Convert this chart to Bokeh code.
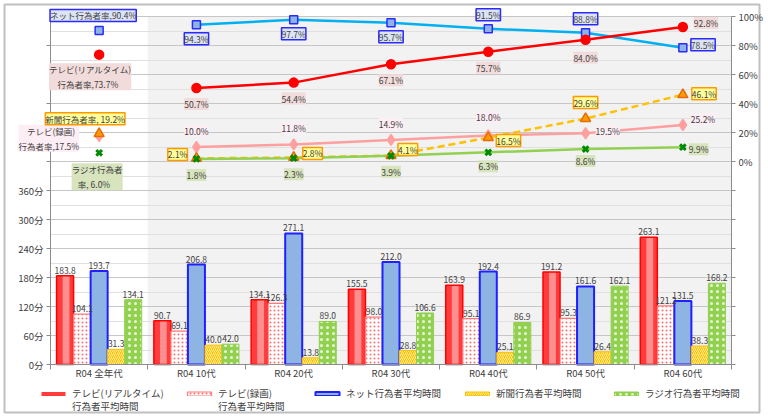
from bokeh.plotting import figure
from bokeh.models import (ColumnDataSource, Range1d, LinearAxis, FixedTicker,
                          LabelSet, Legend, LegendItem)
from bokeh.transform import dodge
from bokeh.core.properties import value
from bokeh.embed import file_html
from bokeh.resources import INLINE

# ---------------- data ----------------
groups = ["R04 全年代", "R04 10代", "R04 20代", "R04 30代", "R04 40代", "R04 50代", "R04 60代"]

tv_rt_min = [183.8, 90.7, 134.1, 155.5, 163.9, 191.2, 263.1]
tv_rec_min = [104.1, 69.1, 126.3, 98.0, 95.1, 95.3, 121.2]
net_min = [193.7, 206.8, 271.1, 212.0, 192.4, 161.6, 131.5]
paper_min = [31.3, 40.0, 13.8, 28.8, 25.1, 26.4, 38.3]
radio_min = [134.1, 42.0, 89.0, 106.6, 86.9, 162.1, 168.2]

net_rate = [90.4, 94.3, 97.7, 95.7, 91.5, 88.8, 78.5]
tv_rt_rate = [73.7, 50.7, 54.4, 67.1, 75.7, 84.0, 92.8]
tv_rec_rate = [17.5, 10.0, 11.8, 14.9, 18.0, 19.5, 25.2]
paper_rate = [19.2, 2.1, 2.8, 4.1, 16.5, 29.6, 46.1]
radio_rate = [6.0, 1.8, 2.3, 3.9, 6.3, 8.6, 9.9]

rate_titles = ["ネット行為者率,", "テレビ(リアルタイム)\n\u3000行為者率,", "\u3000テレビ(録画)\n行為者率,",
               "新聞行為者率, ", "ラジオ行為者\n\u2002 率, "]
bar_names = ["テレビ(リアルタイム)\n行為者平均時間", "テレビ(録画)\n行為者平均時間",
             "ネット行為者平均時間", "新聞行為者平均時間", "ラジオ行為者平均時間"]

time_ticks = [0, 60, 120, 180, 240, 300, 360]
time_extra_ticks = [420, 540, 660]
pct_ticks = [0, 20, 40, 60, 80, 100]

# ---------------- layout / style ----------------
FONT = "Noto Sans CJK JP"
TXT = "#404040"
AX = "#8c8c8c"
N = len(groups)
xc = [i + 0.5 for i in range(N)]

W, H = 764, 415
PX0, PX1 = 50, 731        # pixel of x = 0 and x = N
PY0, PY1 = 364, 16        # pixel of 0 min and TMAX
TMAX = 720
PCT0, MPP = 420, 3        # 0 % sits at 420 min, 1 % = 3 min
sx = (PX1 - PX0) / N
sy = (PY0 - PY1) / TMAX
y0, y1 = -(H - PY0) / sy, TMAX + PY1 / sy

p = figure(width=W, height=H, x_range=Range1d(-PX0 / sx, N + (W - PX1) / sx),
           y_range=Range1d(y0, y1), output_backend="svg", toolbar_location=None,
           min_border=0)
p.extra_y_ranges = {"pct": Range1d((y0 - PCT0) / MPP, (y1 - PCT0) / MPP)}
p.outline_line_color = None
p.background_fill_color = "white"
p.border_fill_color = "white"

# outer frame of the picture
p.quad(left=(4 - PX0) / sx, right=(759 - PX0) / sx, top=(PY0 - 4) / sy, bottom=(PY0 - 412) / sy,
       fill_color=None, line_color="#c0c0c0", line_width=2)

p.xgrid.visible = False
p.ygrid.ticker = FixedTicker(ticks=list(range(0, TMAX + 1, 60)),
                             minor_ticks=list(range(30, TMAX + 1, 60)))
p.ygrid.grid_line_color = "#c6c6c6"
p.ygrid.minor_grid_line_color = "#e0e0e0"
p.ygrid.bounds = (-1, TMAX + 1)
try:
    p.ygrid.cross_bounds = (0, N)
except AttributeError:
    pass

# grey background for age groups
p.quad(left=1, right=N, bottom=0, top=TMAX, fill_color="#f2f2f2", line_color=None, level="image")

# left axis (minutes)
la = p.yaxis[0]
la.fixed_location = 0
la.bounds = (0, TMAX)
la.ticker = FixedTicker(ticks=time_ticks + time_extra_ticks)
la.major_label_overrides = {**{t: f"{t}分" for t in time_ticks}, **{t: "" for t in time_extra_ticks}}
# right axis (percent)
ra = LinearAxis(y_range_name="pct", ticker=FixedTicker(ticks=list(range(-140, 101, 20))),
                fixed_location=N, bounds=(-140, 100))
ra.major_label_overrides = {t: (f"{t}%" if t in pct_ticks else "") for t in range(-140, 101, 20)}
p.add_layout(ra, "right")
for ax in (la, ra):
    ax.axis_line_color = AX
    ax.major_tick_line_color = AX
    ax.major_tick_out = 4
    ax.major_tick_in = 0
    ax.minor_tick_line_color = None
    ax.major_label_text_font = FONT
    ax.major_label_text_font_size = "9.5px"
    ax.major_label_text_color = TXT
    ax.major_label_standoff = 3

xa = p.xaxis[0]
xa.fixed_location = 0
xa.bounds = (0, N)
xa.ticker = FixedTicker(ticks=xc, minor_ticks=list(range(N + 1)))
xa.major_label_overrides = {c: g for c, g in zip(xc, groups)}
xa.axis_line_color = AX
xa.major_tick_line_color = None
xa.minor_tick_line_color = AX
xa.minor_tick_out = 5
xa.minor_tick_in = 0
xa.major_tick_out = 0
xa.major_label_standoff = -4
xa.major_label_text_font = FONT
xa.major_label_text_font_size = "9.5px"
xa.major_label_text_color = TXT

# ---------------- bars ----------------
bsrc = ColumnDataSource(dict(x=xc, tv_rt=tv_rt_min, tv_rec=tv_rec_min, net=net_min,
                             paper=paper_min, radio=radio_min))
offs = [-0.35, -0.175, 0.0, 0.175, 0.35]
BW = 0.175
cols = ["tv_rt", "tv_rec", "net", "paper", "radio"]

r_rt = p.vbar(x=dodge("x", offs[0], range=p.x_range), top="tv_rt", width=BW, source=bsrc,
              fill_color="#ff3b3b", line_color=None)
p.vbar(x=dodge("x", offs[0] + 0.01, range=p.x_range), top="tv_rt", width=0.07, source=bsrc,
       fill_color="#ff8f8f", line_color=None)
p.vbar(x=dodge("x", offs[0], range=p.x_range), top="tv_rt", width=BW, source=bsrc,
       fill_color=None, line_color="#ff0000", line_width=1.5)
r_rec = p.vbar(x=dodge("x", offs[1], range=p.x_range), top="tv_rec", width=BW, source=bsrc,
               fill_color="white", line_color="#ff7a7a", line_width=1.2,
               hatch_pattern="dot", hatch_color="#ff6f6f", hatch_scale=4, hatch_weight=1)
r_net = p.vbar(x=dodge("x", offs[2], range=p.x_range), top="net", width=BW, source=bsrc,
               fill_color="#8db4e2", line_color="#1f1fff", line_width=2)
r_paper = p.vbar(x=dodge("x", offs[3], range=p.x_range), top="paper", width=BW, source=bsrc,
                 fill_color="#ffc000", line_color="#ffc000", line_width=1,
                 hatch_pattern="right_diagonal_line", hatch_color="#fff0a0", hatch_scale=4,
                 hatch_weight=1)
r_radio = p.vbar(x=dodge("x", offs[4], range=p.x_range), top="radio", width=BW, source=bsrc,
                 fill_color="#92d050", line_color="#92d050", line_width=1,
                 hatch_pattern="dot", hatch_color="#e8f5d8", hatch_scale=6, hatch_weight=1)

for c, o in zip(cols, offs):
    s = ColumnDataSource(dict(x=xc, y=bsrc.data[c], t=[f"{v:.1f}" for v in bsrc.data[c]]))
    p.add_layout(LabelSet(x=dodge("x", o, range=p.x_range), y="y", text="t", source=s,
                          y_offset=2, text_align="center", text_baseline="bottom",
                          text_font=value(FONT), text_font_size="8.5px", text_color=TXT))

# ---------------- rate lines ----------------
series = [
    dict(rate=net_rate, line="#00b0f0", dash="solid", marker="square", size=8,
         mfill="#8db4e2", mline="#2a2aff", bg="#dce4f4", border="#2a2aff",
         place=[(-6, 15, "center"), (0, -14, "center"), (0, -14, "center"), (0, -14, "center"),
                (0, 14, "center"), (0, 14, "center"), (8, 3, "left")]),
    dict(rate=tv_rt_rate, line="#ff0000", dash="solid", marker="circle", size=9,
         mfill="#ff0000", mline="#ff0000", bg="#f2dcdb", border=None,
         place=[(-9, -22, "center"), (0, -16, "center"), (0, -16, "center"), (0, -16, "center"),
                (0, -16, "center"), (0, -18, "center"), (11, 4, "left")]),
    dict(rate=tv_rec_rate, line="#ff9f9f", dash="solid", marker="diamond", size=11,
         mfill="#ffa0a0", mline="#ffa0a0", bg="#fdedf4", border=None,
         place=[(-20, -2, "right"), (0, 16, "center"), (0, 16, "center"), (0, 16, "center"),
                (0, 18, "center"), (10, 2, "left"), (8, 6, "left")]),
    dict(rate=paper_rate, line="#ffc000", dash="7 4", marker="triangle", size=10,
         mfill="#ff9900", mline="#e46c0a", bg="#ffff99", border="#ff9900",
         place=[(-14, 15, "center"), (-9, 4, "right"), (9, 4, "left"), (7, 6, "left"),
                (8, -3, "left"), (0, 16, "center"), (9, 1, "left")]),
    dict(rate=radio_rate, line="#92d050", dash="solid", marker="x", size=8,
         mfill="#008a00", mline="#008a00", bg="#d7e4bd", border=None,
         place=[(-2, -24, "center"), (0, -16, "center"), (0, -16, "center"), (0, -16, "center"),
                (0, -14, "center"), (0, -12, "center"), (6, -2, "left")]),
]

for s in series:
    rate = s["rate"]
    src = ColumnDataSource(dict(x=xc[1:], y=rate[1:]))
    p.line("x", "y", source=src, y_range_name="pct", line_color=s["line"], line_width=2.5,
           line_dash=s["dash"])
for s in series:
    rate = s["rate"]
    msrc = ColumnDataSource(dict(x=xc, y=rate))
    p.scatter("x", "y", source=msrc, y_range_name="pct", marker=s["marker"], size=s["size"],
              fill_color=s["mfill"], line_color=s["mline"],
              line_width=3 if s["marker"] == "x" else 1.5)

for k, s in enumerate(series):
    rate = s["rate"]
    texts = [rate_titles[k] + f"{rate[0]:.1f}%"] + [f"{v:.1f}%" for v in rate[1:]]
    lsrc = ColumnDataSource(dict(x=xc, y=rate, t=texts,
                                 dx=[pl[0] for pl in s["place"]],
                                 dy=[pl[1] for pl in s["place"]],
                                 al=[pl[2] for pl in s["place"]]))
    kw = dict(x="x", y="y", text="t", source=lsrc, y_range_name="pct",
              x_offset="dx", y_offset="dy", text_align="al", text_baseline="middle",
              text_font=value(FONT), text_font_size="8.5px", text_color=TXT,
              background_fill_color=s["bg"], text_line_height=1.25)
    if s["border"]:
        kw.update(border_line_color=s["border"], border_line_width=1.5)
    try:
        ls = LabelSet(padding=2, **kw)
    except AttributeError:
        ls = LabelSet(**kw)
    p.add_layout(ls)

# ---------------- legend (one legend per entry, second text line below) ----------------
LEG_X = [38, 184, 312, 462, 611]      # swatch left edge (px)
GW, GS = 30, 4


def make_legend(label, renderer, x, y, gw, gs):
    return Legend(items=[LegendItem(label=label, renderers=[renderer])],
                  orientation="horizontal", location=(x, y),
                  glyph_width=gw, glyph_height=5, label_standoff=gs,
                  padding=0, margin=0, border_line_color=None, background_fill_alpha=0,
                  label_text_font=FONT, label_text_font_size="9.5px", label_text_color=TXT,
                  label_height=12)


for name, r, lx in zip(bar_names, [r_rt, r_rec, r_net, r_paper, r_radio], LEG_X):
    lines = name.split("\n")
    p.add_layout(make_legend(lines[0], r, lx, 15, GW, GS))
    if len(lines) > 1:
        p.add_layout(make_legend(lines[1], r_rt, lx + GW + GS, 2, 0, 0))

open("out.html", "w").write(file_html(p, INLINE))
